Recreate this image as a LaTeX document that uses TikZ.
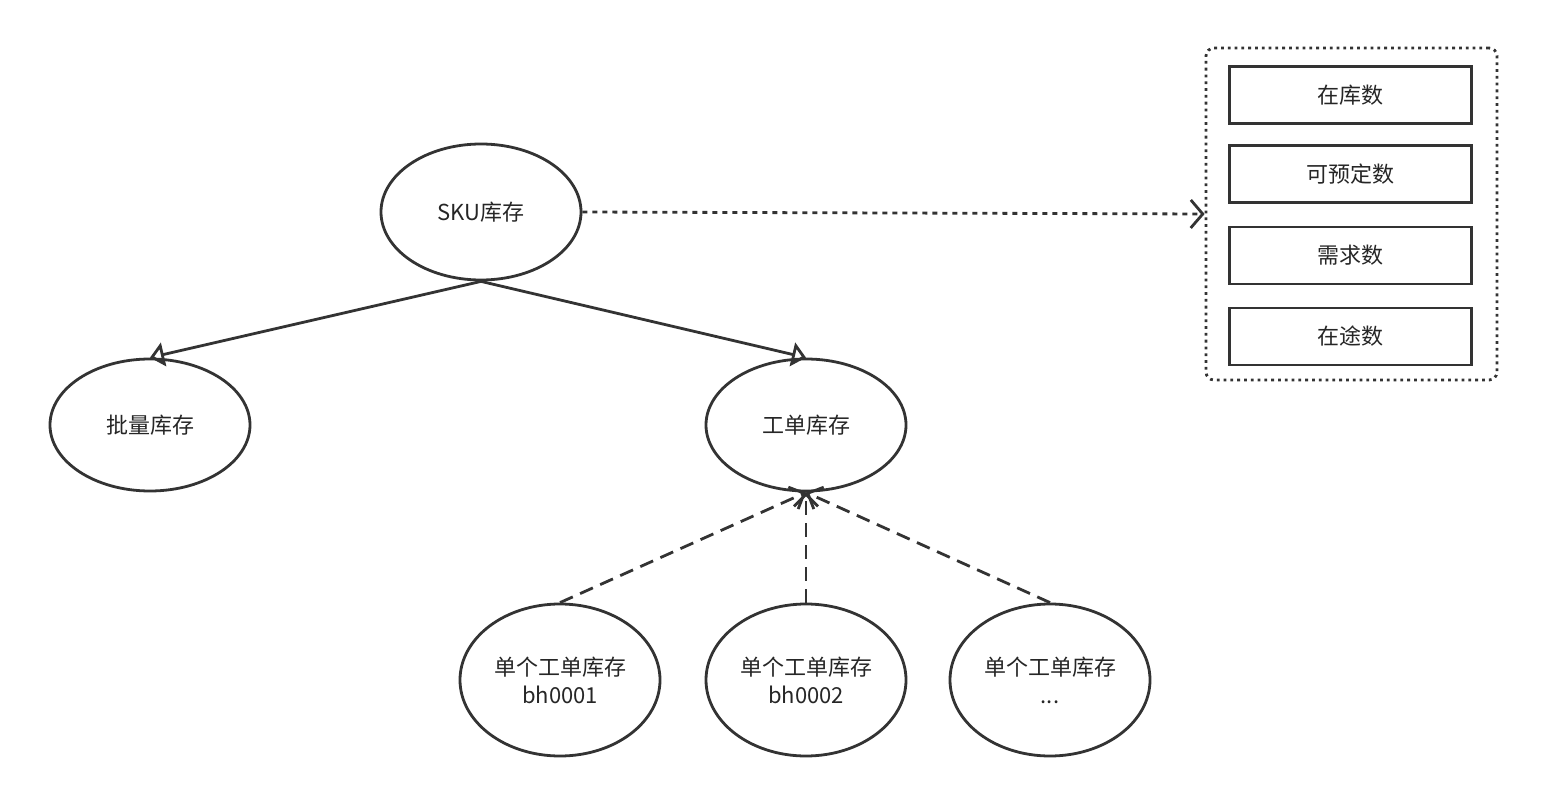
\documentclass[tikz,border=0pt]{standalone}
\usepackage{fontspec}
\setmainfont{Noto Sans CJK SC}
\usetikzlibrary{shapes.geometric,arrows.meta}
\begin{document}
\begin{tikzpicture}[x=0.5pt,y=-0.5pt,
  ell/.style={ellipse,draw=black!80,line width=1.4pt,inner sep=0pt,minimum width=100pt,font=\fontsize{11}{14}\selectfont,align=center,text=black!85},
  item/.style={rectangle,draw=black!80,line width=1.4pt,minimum width=121pt,minimum height=28.5pt,font=\fontsize{11}{14}\selectfont,text=black!85},
  gen/.style={draw=black!80,line width=1.4pt,-{Triangle[open,length=7pt,width=12pt]}},
  dep/.style={draw=black!80,line width=1.4pt,dash pattern=on 7pt off 4pt,-{Straight Barb[length=6pt,width=12pt]}}]
\useasboundingbox (0,0) rectangle (1546,796);
\node[ell,minimum height=68pt] (sku) at (481,212) {SKU库存};
\node[ell,minimum height=66pt] (pl) at (150,425) {批量库存};
\node[ell,minimum height=66pt] (gd) at (806,425) {工单库存};
\node[ell,minimum height=76pt] (b1) at (560,680) {单个工单库存\\bh0001};
\node[ell,minimum height=76pt] (b2) at (806,680) {单个工单库存\\bh0002};
\node[ell,minimum height=76pt] (b3) at (1050,680) {单个工单库存\\...};
\node[draw=black!80,line width=1.4pt,dotted,rounded corners=4pt,minimum width=145.5pt,minimum height=166pt] (grp) at (1351.5,214) {};
\node[item] (i1) at (1350.5,95) {在库数};
\node[item] (i2) at (1350.5,174) {可预定数};
\node[item] (i3) at (1350.5,255.5) {需求数};
\node[item] (i4) at (1350.5,336.5) {在途数};
\draw[gen] (sku.south) -- (pl.north);
\draw[gen] (sku.south) -- (gd.north);
\draw[dep] (b1.north) -- (gd.south);
\draw[dep] (b2.north) -- (gd.south);
\draw[dep] (b3.north) -- (gd.south);
\draw[draw=black!80,line width=1.4pt,dash pattern=on 2.5pt off 2.5pt,-{Straight Barb[length=6pt,width=14pt]}] (sku.east) -- (grp.west);
\end{tikzpicture}
\end{document}
